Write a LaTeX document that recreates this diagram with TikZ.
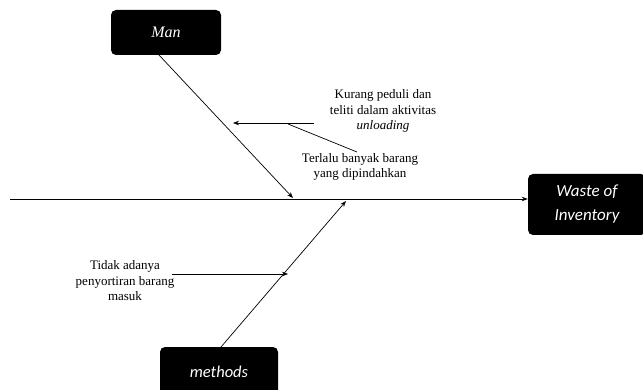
\documentclass[tikz,border=0pt]{standalone}
\usepackage{fontspec}
\setmainfont{Liberation Serif}
\newfontfamily\calib{Carlito}
\usetikzlibrary{arrows.meta}
\begin{document}
\begin{tikzpicture}[x=1pt,y=-1pt,
  catbox/.style={fill=black,text=white,rounded corners=5pt,inner sep=0pt},
  note/.style={align=center,font=\fontsize{13}{15.5}\selectfont,inner sep=0pt},
  bone/.style={line width=0.7pt},
  tip/.style={-{Stealth[length=6pt,width=4.5pt]}}]
\useasboundingbox (0,0) rectangle (643,390);
% category boxes
\node[catbox,minimum width=110pt,minimum height=45pt,
  font=\fontsize{16}{18}\selectfont\itshape] (man) at (166,32.5) {Man};
\node[catbox,minimum width=118pt,minimum height=50pt,
  font=\calib\fontsize{16.5}{19}\selectfont\itshape] (meth) at (219,372) {methods};
\node[catbox,minimum width=118pt,minimum height=61pt,align=center,
  font=\calib\fontsize{17}{24}\selectfont\itshape] (waste) at (587,204.5)
  {Waste of\\Inventory};
% spine
\coordinate (tail) at (10,199);
\draw[bone,line width=0.9pt,tip] (tail) -- (waste.west|-tail);
% main bones
\coordinate (mantop) at (159,55);
\coordinate (manend) at (293,198);
\draw[bone,tip] (mantop) -- (manend);
\coordinate (methbot) at (221,347);
\coordinate (methend) at (346,201);
\draw[bone,tip] (methbot) -- (methend);
% causes on the Man bone
\node[note] (kurang) at (383,111) {Kurang peduli dan\\teliti dalam aktivitas\\\textit{unloading}};
\node[note] (terlalu) at (360,167) {Terlalu banyak barang\\yang dipindahkan};
\coordinate (k0) at (314,123);
\coordinate (k1) at (233,123);
\draw[bone,tip] (k0) -- (k1);
\coordinate (t0) at (288,124);
\coordinate (t1) at (357,152);
\draw[bone] (t0) -- (t1);
% cause on the methods bone
\node[note] (tidak) at (125,281) {Tidak adanya\\penyortiran barang\\masuk};
\coordinate (d0) at (172,274);
\coordinate (d1) at (288,274);
\draw[bone,tip] (d0) -- (d1);
\end{tikzpicture}
\end{document}
